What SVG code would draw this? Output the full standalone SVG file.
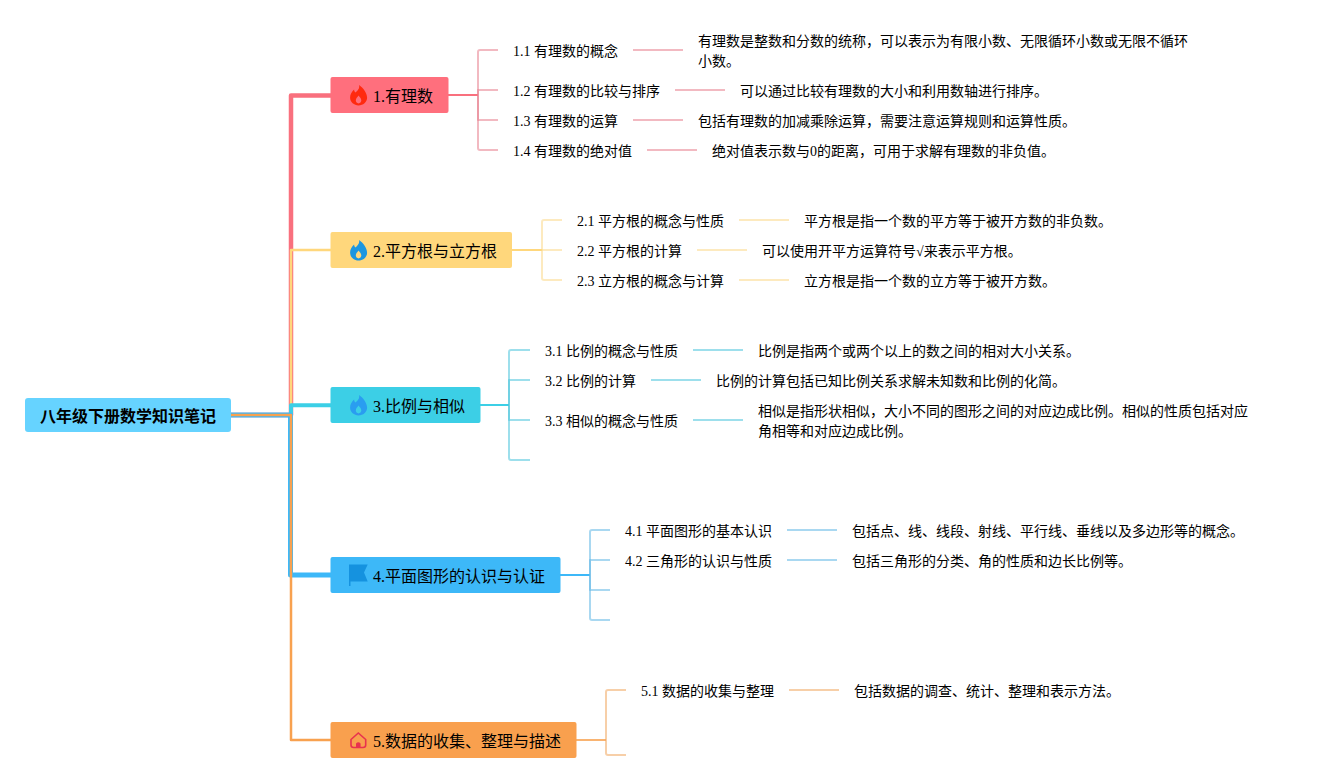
<svg xmlns="http://www.w3.org/2000/svg" width="1318" height="783" viewBox="0 0 1318 783">
<style>
text{font-family:"Liberation Serif","Noto Sans CJK SC",serif;fill:#000}
.l{font-size:14px}.b{font-size:16px}.r{font-size:16px;font-weight:bold}
#connectors path{fill:none;stroke-linejoin:round}
.s{stroke-width:2}
.o{stroke-width:2;stroke-opacity:.55}
.c1{stroke:#f9707e}.c2{stroke:#ffd77c}.c3{stroke:#3ccfe6}.c4{stroke:#3db8f8}.c5{stroke:#f8a14f}
.d1{stroke:#e8808e}.d2{stroke:#fbd98a}.d3{stroke:#4cc5dc}.d4{stroke:#63b8e6}.d5{stroke:#f0a860}
</style>
<defs>
<path id="fire" d="M9.500 0C10.500 3.500 8 5.500 6 7.500C5 6.800 4.600 5.800 4.600 4.600C2.200 6.800 .6 9.500 .6 12.600C.6 17.200 4.600 20.500 9 20.500C13.600 20.500 17.600 17.200 17.600 12.800C17.600 8 13.800 3 9.500 0ZM9 18.400C7.500 18.400 6.300 17.200 6.300 15.600C6.300 13.600 8 12.200 9 10.600C10.200 12.200 11.800 13.600 11.800 15.600C11.800 17.200 10.600 18.400 9 18.400Z"/>
</defs>
<g id="connectors">
<path class="c1" d="M231 415H291V95.500H331" stroke-width="4.500"/>
<path class="c2" d="M231 415H291V250H331" stroke-width="2.500"/>
<path class="c3" d="M231 415H291V405.300H331" stroke-width="4"/>
<path class="c4" d="M231 415H290.500V575H331" stroke-width="5"/>
<path class="c5" d="M231 415H291V740H331" stroke-width="2.500"/>
<path class="s c1" d="M448 95H478"/>
<path class="o d1" d="M478 95V52Q478 50 480 50H498"/>
<path class="o d1" d="M478 95V90H498"/>
<path class="o d1" d="M478 95V120H498"/>
<path class="o d1" d="M478 95V148Q478 150 480 150H498"/>
<path class="o d1" d="M633 50H683"/>
<path class="o d1" d="M675 90H725"/>
<path class="o d1" d="M633 120H683"/>
<path class="o d1" d="M647 150H697"/>
<path class="s c2" d="M511 250H542"/>
<path class="o d2" d="M542 250V222Q542 220 544 220H562"/>
<path class="o d2" d="M542 250H562"/>
<path class="o d2" d="M542 250V278Q542 280 544 280H562"/>
<path class="o d2" d="M739 220H789"/>
<path class="o d2" d="M697 250H747"/>
<path class="o d2" d="M739 280H789"/>
<path class="s c3" d="M479 405H509"/>
<path class="o d3" d="M509 405V352Q509 350 511 350H530"/>
<path class="o d3" d="M509 405V380H530"/>
<path class="o d3" d="M509 405V420H530"/>
<path class="o d3" d="M509 405V458Q509 460 511 460H530"/>
<path class="o d3" d="M693 350H743"/>
<path class="o d3" d="M651 380H701"/>
<path class="o d3" d="M693 420H743"/>
<path class="s c4" d="M560 575H590"/>
<path class="o d4" d="M590 575V532Q590 530 592 530H610"/>
<path class="o d4" d="M590 575V560H610"/>
<path class="o d4" d="M590 575V590H610"/>
<path class="o d4" d="M590 575V618Q590 620 592 620H610"/>
<path class="o d4" d="M787 530H837"/>
<path class="o d4" d="M787 560H837"/>
<path class="s c5" d="M576 740H606" stroke-opacity=".8"/>
<path class="o d5" d="M606 740V692Q606 690 608 690H626"/>
<path class="o d5" d="M606 740V753Q606 755 608 755H626"/>
<path class="o d5" d="M789 690H839"/>
</g>
<g id="root"><rect x="25" y="398" width="206" height="34" rx="3" fill="#66d3ff"/><text class="r" x="40" y="422">八年级下册数学知识笔记</text></g>
<g id="n1"><rect x="330.500" y="77" width="118" height="36" rx="2" fill="#ff6f7d"/><use href="#fire" x="349.500" y="85" fill="#ff2a0f"/><text class="b" x="373" y="102">1.有理数</text></g>
<g id="n2"><rect x="330.500" y="232" width="181.500" height="36" rx="2" fill="#ffd77c"/><use href="#fire" x="349.500" y="240" fill="#1c96e0"/><text class="b" x="373" y="257">2.平方根与立方根</text></g>
<g id="n3"><rect x="330.500" y="387" width="150" height="36" rx="2" fill="#3ccfe6"/><use href="#fire" x="349.500" y="395" fill="#2a9df0"/><text class="b" x="373" y="412">3.比例与相似</text></g>
<g id="n4"><rect x="330.500" y="557" width="230" height="36" rx="2" fill="#3db8f8"/><path d="M349 564.500H367.700L364 572.500L367.700 581.500H350.500V586H349Z" fill="#1592df"/><text class="b" x="373" y="582">4.平面图形的认识与认证</text></g>
<g id="n5"><rect x="330.500" y="722" width="246" height="36" rx="2" fill="#f9a04e"/><path d="M351 739.500L358.300 733L365.700 739.500V745Q365.700 747.500 363 747.500H353.700Q351 747.500 351 745Z" fill="none" stroke="#e8324f" stroke-width="1.600"/><path d="M356 748V743.500Q358.300 741 360.600 743.500V748Z" fill="#e8324f"/><text class="b" x="373" y="747">5.数据的收集、整理与描述</text></g>
<g id="t1" class="l">
<text x="513" y="55.500">1.1 有理数的概念</text>
<text x="698" y="46">有理数是整数和分数的统称，可以表示为有限小数、无限循环小数或无限不循环</text>
<text x="698" y="66">小数。</text>
<text x="513" y="95.500">1.2 有理数的比较与排序</text>
<text x="740" y="96">可以通过比较有理数的大小和利用数轴进行排序。</text>
<text x="513" y="125.500">1.3 有理数的运算</text>
<text x="698" y="126">包括有理数的加减乘除运算，需要注意运算规则和运算性质。</text>
<text x="513" y="155.500">1.4 有理数的绝对值</text>
<text x="712" y="156">绝对值表示数与0的距离，可用于求解有理数的非负值。</text>
</g>
<g id="t2" class="l">
<text x="577" y="225.500">2.1 平方根的概念与性质</text>
<text x="804" y="226">平方根是指一个数的平方等于被开方数的非负数。</text>
<text x="577" y="255.500">2.2 平方根的计算</text>
<text x="762" y="256">可以使用开平方运算符号√来表示平方根。</text>
<text x="577" y="285.500">2.3 立方根的概念与计算</text>
<text x="804" y="286">立方根是指一个数的立方等于被开方数。</text>
</g>
<g id="t3" class="l">
<text x="545" y="355.500">3.1 比例的概念与性质</text>
<text x="758" y="356">比例是指两个或两个以上的数之间的相对大小关系。</text>
<text x="545" y="385.500">3.2 比例的计算</text>
<text x="716" y="386">比例的计算包括已知比例关系求解未知数和比例的化简。</text>
<text x="545" y="425.500">3.3 相似的概念与性质</text>
<text x="758" y="416">相似是指形状相似，大小不同的图形之间的对应边成比例。相似的性质包括对应</text>
<text x="758" y="436">角相等和对应边成比例。</text>
</g>
<g id="t4" class="l">
<text x="625" y="535.500">4.1 平面图形的基本认识</text>
<text x="852" y="536">包括点、线、线段、射线、平行线、垂线以及多边形等的概念。</text>
<text x="625" y="565.500">4.2 三角形的认识与性质</text>
<text x="852" y="566">包括三角形的分类、角的性质和边长比例等。</text>
</g>
<g id="t5" class="l">
<text x="641" y="695.500">5.1 数据的收集与整理</text>
<text x="854" y="696">包括数据的调查、统计、整理和表示方法。</text>
</g>
</svg>
